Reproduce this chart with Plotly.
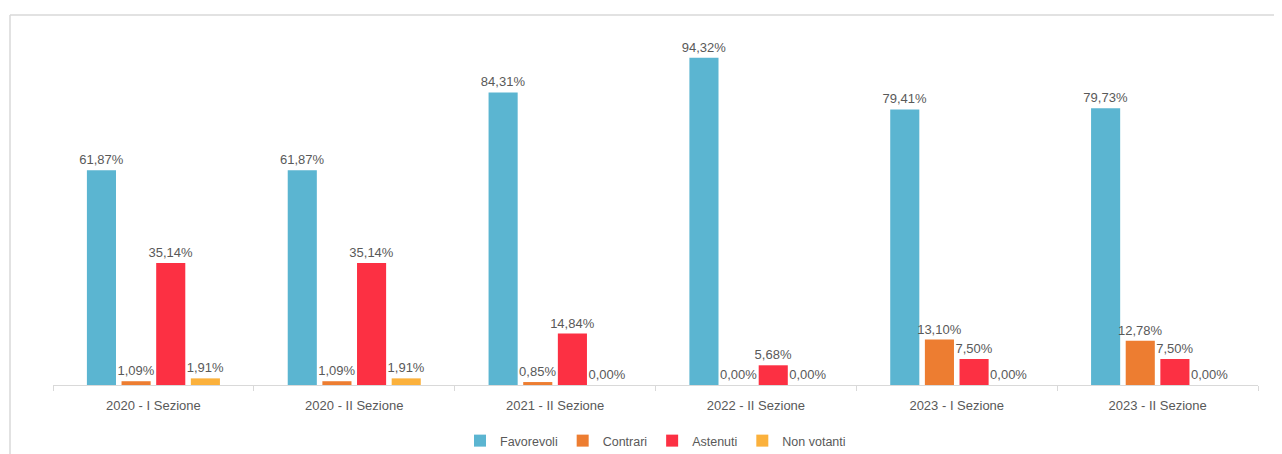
import plotly.graph_objects as go

categories = ["2020 - I Sezione", "2020 - II Sezione", "2021 - II Sezione",
              "2022 - II Sezione", "2023 - I Sezione", "2023 - II Sezione"]
favorevoli = [61.87, 61.87, 84.31, 94.32, 79.41, 79.73]
contrari = [1.09, 1.09, 0.85, 0.00, 13.10, 12.78]
astenuti = [35.14, 35.14, 14.84, 5.68, 7.50, 7.50]
non_votanti = [1.91, 1.91, 0.00, 0.00, 0.00, 0.00]

series = [
    ("Favorevoli", favorevoli, "#5BB5D1"),
    ("Contrari", contrari, "#ED7D31"),
    ("Astenuti", astenuti, "#FC3043"),
    ("Non votanti", non_votanti, "#FBB13C"),
]

def fmt(v):
    return f"{v:.2f}".replace(".", ",") + "%"

fig = go.Figure()
for name, vals, color in series:
    fig.add_trace(go.Bar(
        x=categories, y=vals, name=name,
        marker=dict(color=color, line=dict(width=0)),
        text=[fmt(v) for v in vals], textposition="outside",
        textfont=dict(color="#595959", size=13),
        constraintext="none",
        cliponaxis=False,
    ))

# page has an 8px body margin
W, H = 1274, 446
ml, mr, mt, mb = 45, 24, 30, 69
pw = W - ml - mr
ph = H - mt - mb

fig.update_layout(
    width=W, height=H,
    margin=dict(l=ml, r=mr, t=mt, b=mb, autoexpand=False),
    barmode="group", bargap=0.31, bargroupgap=0.16,
    plot_bgcolor="white", paper_bgcolor="white",
    font=dict(family="Liberation Sans, Arial, sans-serif", color="#595959", size=13),
    showlegend=True,
    legend=dict(orientation="h", x=0.5, xanchor="center", y=(mt + ph - 433) / ph,
                yanchor="middle", font=dict(size=12.5, color="#595959"),
                itemwidth=30, traceorder="normal"),
    xaxis=dict(showline=True, linecolor="#D9D9D9", linewidth=1,
               ticks="outside", ticklen=5, tickcolor="#D9D9D9",
               tickson="boundaries", tickfont=dict(size=13, color="#595959"),
               ticklabelstandoff=8, showgrid=False),
    yaxis=dict(range=[0, 100], visible=False, showgrid=False, zeroline=False),
)

x0 = (2 - ml) / pw
y1 = (mt + ph - 7) / ph
fig.add_shape(type="line", xref="paper", yref="paper",
              x0=x0, x1=1.1, y0=y1, y1=y1,
              line=dict(color="#D9D9D9", width=1.5))
fig.add_shape(type="line", xref="paper", yref="paper",
              x0=x0, x1=x0, y0=y1, y1=-0.3,
              line=dict(color="#D9D9D9", width=1.5))

fig.write_html("out.html")
